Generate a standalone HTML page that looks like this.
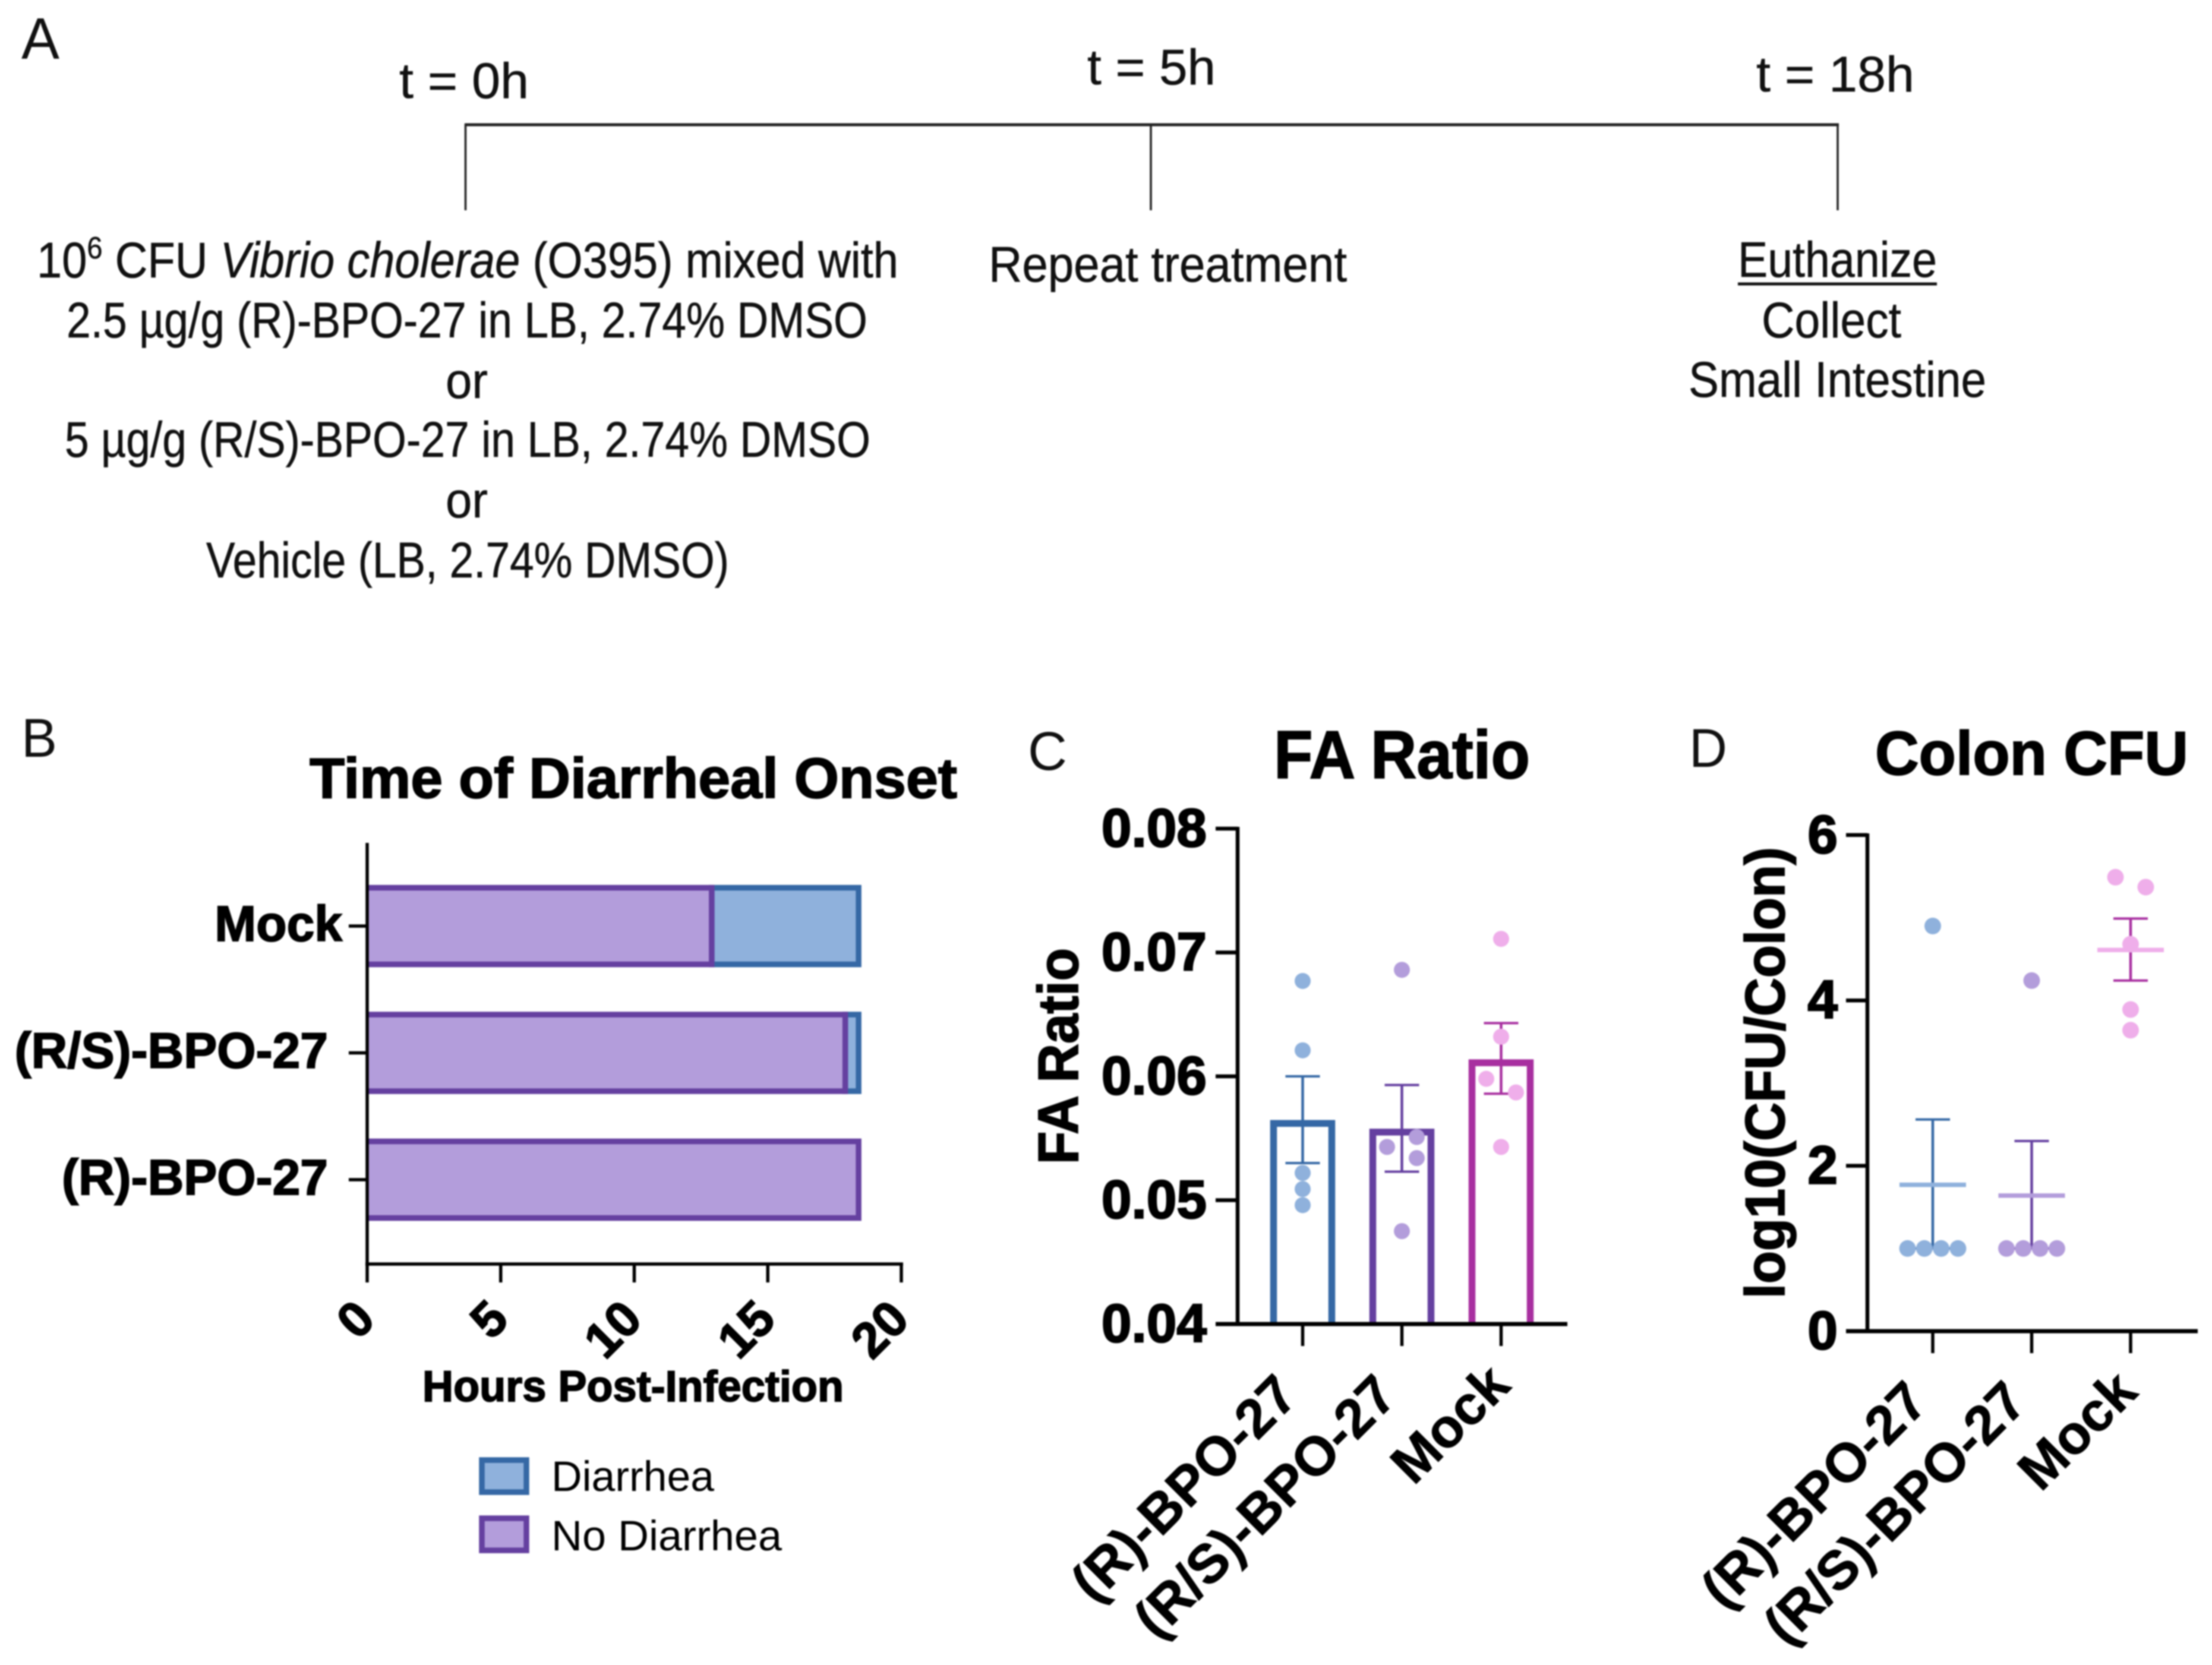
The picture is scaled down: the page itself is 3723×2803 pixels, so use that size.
<!DOCTYPE html>
<html lang="en">
<head>
<meta charset="utf-8">
<title>BPO-27 Vibrio cholerae infection figure</title>
<style>
html,body{margin:0;padding:0;background:#fff;}
svg{display:block;filter:blur(1.4px);}
text{font-family:"Liberation Sans",Arial,sans-serif;fill:#000;}
.proto{font-size:84px;fill:#111;stroke:#111;stroke-width:0.6px;}
.bold{font-weight:700;stroke:#000;stroke-width:2px;}
.panel{font-size:92px;fill:#111;}
</style>
</head>
<body>
<svg id="figure" xmlns="http://www.w3.org/2000/svg" width="3723" height="2803" viewBox="0 0 3723 2803">
<rect x="0" y="0" width="3723" height="2803" fill="#fff"/>

<g>
<text class="panel" x="36" y="99" font-size="98" style="font-size:98px" textLength="64" lengthAdjust="spacingAndGlyphs">A</text>
<text class="proto" x="672" y="165" textLength="218" lengthAdjust="spacingAndGlyphs">t = 0h</text>
<text class="proto" x="1830" y="142" textLength="216" lengthAdjust="spacingAndGlyphs">t = 5h</text>
<text class="proto" x="2956" y="154" textLength="266" lengthAdjust="spacingAndGlyphs">t = 18h</text>
<line x1="782" y1="210" x2="3095" y2="210" stroke="#222" stroke-width="5"/>
<line x1="783.5" y1="209" x2="783.5" y2="354" stroke="#222" stroke-width="3.5"/>
<line x1="1937" y1="209" x2="1937" y2="354" stroke="#222" stroke-width="3.5"/>
<line x1="3093" y1="209" x2="3093" y2="354" stroke="#222" stroke-width="3.5"/>
<text class="proto" x="62" y="467" textLength="1450" lengthAdjust="spacingAndGlyphs">10<tspan font-size="52" style="font-size:52px" dy="-32">6</tspan><tspan dy="32"> CFU </tspan><tspan font-style="italic">Vibrio cholerae</tspan><tspan> (O395) mixed with</tspan></text>
<text class="proto" x="112" y="568" textLength="1348" lengthAdjust="spacingAndGlyphs">2.5 µg/g (R)-BPO-27 in LB, 2.74% DMSO</text>
<text class="proto" x="750" y="670" textLength="71" lengthAdjust="spacingAndGlyphs">or</text>
<text class="proto" x="109" y="769" textLength="1356" lengthAdjust="spacingAndGlyphs">5 µg/g (R/S)-BPO-27 in LB, 2.74% DMSO</text>
<text class="proto" x="750" y="871" textLength="71" lengthAdjust="spacingAndGlyphs">or</text>
<text class="proto" x="347" y="972" textLength="880" lengthAdjust="spacingAndGlyphs">Vehicle (LB, 2.74% DMSO)</text>
<text class="proto" x="1664" y="474" textLength="603" lengthAdjust="spacingAndGlyphs">Repeat treatment</text>
<text class="proto" x="2925" y="466" textLength="335" lengthAdjust="spacingAndGlyphs">Euthanize</text>
<line x1="2925" y1="478" x2="3260" y2="478" stroke="#111" stroke-width="5"/>
<text class="proto" x="2965" y="568" textLength="235" lengthAdjust="spacingAndGlyphs">Collect</text>
<text class="proto" x="2842" y="668" textLength="501" lengthAdjust="spacingAndGlyphs">Small Intestine</text>
</g>

<g id="panelB">
<text class="panel" x="36" y="1274" textLength="60" lengthAdjust="spacingAndGlyphs">B</text>
<text class="bold" x="521" y="1343" font-size="96" textLength="1090" lengthAdjust="spacingAndGlyphs">Time of Diarrheal Onset</text>
<text class="bold" x="711" y="2359" font-size="73" textLength="709" lengthAdjust="spacingAndGlyphs">Hours Post-Infection</text>
<rect x="811" y="2458" width="75" height="54" fill="#8fb1dc" stroke="#3568a5" stroke-width="9.5"/>
<text x="928" y="2510" font-size="71" fill="#111" textLength="274" lengthAdjust="spacingAndGlyphs">Diarrhea</text>
<rect x="811" y="2556" width="75" height="54" fill="#b39ddb" stroke="#6540a0" stroke-width="9.5"/>
<text x="928" y="2610" font-size="71" fill="#111" textLength="388" lengthAdjust="spacingAndGlyphs">No Diarrhea</text>
</g>

<g id="panelC">
<text class="panel" x="1730" y="1296" textLength="66" lengthAdjust="spacingAndGlyphs">C</text>
<text class="bold" x="2144" y="1310" font-size="114" textLength="431" lengthAdjust="spacingAndGlyphs">FA Ratio</text>
<text class="bold" transform="translate(1814,1960) rotate(-90)" font-size="96" textLength="364" lengthAdjust="spacingAndGlyphs">FA Ratio</text>
</g>

<g id="panelD">
<text class="panel" x="2843" y="1291" textLength="64" lengthAdjust="spacingAndGlyphs">D</text>
<text class="bold" x="3156" y="1304" font-size="104" textLength="527" lengthAdjust="spacingAndGlyphs">Colon CFU</text>
<text class="bold" transform="translate(3003,2186) rotate(-90)" font-size="94" textLength="760" lengthAdjust="spacingAndGlyphs">log10(CFU/Colon)</text>
</g>
</svg>

<script>
// ---- Panel B data ----
var onsetCategories = ['Mock', '(R/S)-BPO-27', '(R)-BPO-27'];
var noDiarrheaHours = [12.9, 17.9, 18.4];
var diarrheaHours = [5.5, 0.5, 0];
var hourTicks = [0, 5, 10, 15, 20];
var hourTickLabels = ['0', '5', '10', '15', '20'];

// ---- Panel C data ----
var groupLabels = ['(R)-BPO-27', '(R/S)-BPO-27', 'Mock'];
var faMeans = [0.0562, 0.0555, 0.0611];
var faErrHigh = [0.0600, 0.0593, 0.0643];
var faErrLow = [0.0530, 0.0523, 0.0586];
var faPoints = [
  [0.0677, 0.0621, 0.0522, 0.0509, 0.0496],
  [0.0686, 0.0551, 0.0543, 0.0534, 0.0475],
  [0.0711, 0.0632, 0.0598, 0.0587, 0.0543]
];
var faJitter = [
  [0, 0, 0, 0, 0],
  [0, 1, -1, 1, 0],
  [0, 0, -1, 1, 0]
];
var faTicks = [0.04, 0.05, 0.06, 0.07, 0.08];
var faTickLabels = ['0.04', '0.05', '0.06', '0.07', '0.08'];

// ---- Panel D data ----
var cfuMeans = [1.77, 1.64, 4.61];
var cfuErrHigh = [2.56, 2.30, 4.99];
var cfuErrLow = [1.0, 1.0, 4.24];
var cfuPoints = [
  [4.9, 1, 1, 1, 1],
  [4.24, 1, 1, 1, 1],
  [5.49, 5.37, 4.68, 3.89, 3.64]
];
var cfuJitter = [
  [0, -1.5, -0.5, 0.5, 1.5],
  [0, -1.5, -0.5, 0.5, 1.5],
  [-0.9, 0.9, 0, 0, 0]
];
var cfuTicks = [0, 2, 4, 6];
var cfuTickLabels = ['0', '2', '4', '6'];

var NS = 'http://www.w3.org/2000/svg';
var darkColors = ['#3568a5', '#6540a0', '#a82fa0'];
var lightColors = ['#8fb1dc', '#b39ddb', '#efaeea'];

function make(parent, tag, attrs, txt) {
  var el = document.createElementNS(NS, tag);
  for (var k in attrs) { el.setAttribute(k, attrs[k]); }
  if (txt !== undefined) { el.textContent = txt; }
  parent.appendChild(el);
  return el;
}
function seg(parent, x1, y1, x2, y2, color, w) {
  return make(parent, 'line', {x1: x1, y1: y1, x2: x2, y2: y2, stroke: color, 'stroke-width': w});
}

// ---- Axis functions ----
function xHours(v) { return 618 + v * 44.95; }
function yOnset(i) { return 1560 + i * 213.5; }
function yFA(v) { return 2229 - (v - 0.04) * 20850; }
function xFA(i) { return 2192.5 + i * 167; }
function yCFU(v) { return 2241 - v * 139.2; }
function xCFU(i) { return 3253 + i * 166.5; }

var el;

// ---- Panel B ----
var pB = document.getElementById('panelB');
var barHalf = 64.5;
onsetCategories.forEach(function (cat, i) {
  var yc = yOnset(i) - 1;
  var nd = noDiarrheaHours[i];
  var di = diarrheaHours[i];
  if (di > 0) {
    el = make(pB, 'rect', {x: xHours(nd), y: yc - barHalf, width: xHours(nd + di) - xHours(nd), height: barHalf * 2, fill: '#8fb1dc', stroke: '#3568a5', 'stroke-width': 9.5});
    
    
  }
  el = make(pB, 'path', {d: 'M' + xHours(0) + ' ' + (yc - barHalf) + 'H' + xHours(nd) + 'V' + (yc + barHalf) + 'H' + xHours(0), fill: '#b39ddb', stroke: '#6540a0', 'stroke-width': 9.5});
  
  
  el = seg(pB, 587, yc, 618, yc, '#000', 5.5);
  
  
  el = make(pB, 'text', {x: 552 + (i === 0 ? 24 : 0), y: yc + 25, 'text-anchor': 'end', 'font-size': 84, 'font-weight': 700, stroke: '#000', 'stroke-width': 2}, cat);
  
  
});
el = seg(pB, 618, 1419, 618, 2131, '#000', 5.5);


el = seg(pB, 615, 2128, 1520, 2128, '#000', 5.5);


hourTicks.forEach(function (t, i) {
  var x = xHours(t);
  el = seg(pB, x, 2128, x, 2159, '#000', 5.5);
  
  
  el = make(pB, 'text', {transform: 'translate(' + (x + 17) + ',2225) rotate(-45)', 'text-anchor': 'end', 'font-size': 84, 'font-weight': 700, stroke: '#000', 'stroke-width': 2}, hourTickLabels[i]);
  
  
});

// ---- Panel C ----
var pC = document.getElementById('panelC');
var halfBar = 49;
faMeans.forEach(function (m, i) {
  var xc = xFA(i);
  var yb = yFA(faTicks[0]);
  var yt = yFA(m);
  el = make(pC, 'path', {d: 'M' + (xc - halfBar) + ' ' + yb + 'V' + yt + 'H' + (xc + halfBar) + 'V' + yb, fill: 'none', stroke: darkColors[i], 'stroke-width': 11.5});
  
  
  el = seg(pC, xc, yFA(faErrHigh[i]), xc, yFA(faErrLow[i]), darkColors[i], 4.5);
  
  
  el = seg(pC, xc - 29, yFA(faErrHigh[i]), xc + 29, yFA(faErrHigh[i]), darkColors[i], 4);
  
  
  el = seg(pC, xc - 29, yFA(faErrLow[i]), xc + 29, yFA(faErrLow[i]), darkColors[i], 4);
  
  
  faPoints[i].forEach(function (v, j) {
    el = make(pC, 'circle', {cx: xc + faJitter[i][j] * 25, cy: yFA(v), r: 13.5, fill: lightColors[i]});
    
    
  });
  var isShort = groupLabels[i].length < 6;
  var ax = xc - 4 + (isShort ? 23 : 0);
  var ay = yb + 3 + (isShort ? 104 : 122);
  el = seg(pC, xc, yb, xc, 2266, '#000', 5.5);
  
  
  el = make(pC, 'text', {transform: 'translate(' + ax + ',' + ay + ') rotate(-45)', 'text-anchor': 'end', 'font-size': 92, 'font-weight': 700, stroke: '#000', 'stroke-width': 1}, groupLabels[i]);
  
  
});
el = seg(pC, 2083, 1392, 2083, 2232, '#000', 6.5);


el = seg(pC, 2046, 2229, 2638, 2229, '#000', 7);


faTicks.forEach(function (t, i) {
  var y = yFA(t);
  el = seg(pC, 2046, y, 2083, y, '#000', 6.5);
  
  
  el = make(pC, 'text', {x: 2031, y: y + 30, 'text-anchor': 'end', 'font-size': 91, 'font-weight': 700, stroke: '#000', 'stroke-width': 2.5}, faTickLabels[i]);
  
  
});

// ---- Panel D ----
var pD = document.getElementById('panelD');
cfuMeans.forEach(function (m, i) {
  var xc = xCFU(i);
  var yb = yCFU(cfuTicks[0]);
  el = seg(pD, xc, yCFU(cfuErrHigh[i]), xc, yCFU(cfuErrLow[i]), darkColors[i], 4.5);
  
  
  el = seg(pD, xc - 29, yCFU(cfuErrHigh[i]), xc + 29, yCFU(cfuErrHigh[i]), darkColors[i], 4);
  
  
  el = seg(pD, xc - 29, yCFU(cfuErrLow[i]), xc + 29, yCFU(cfuErrLow[i]), darkColors[i], 4);
  
  
  cfuPoints[i].forEach(function (v, j) {
    el = make(pD, 'circle', {cx: xc + cfuJitter[i][j] * 28.3, cy: yCFU(v), r: 14, fill: lightColors[i]});
    
    
  });
  el = seg(pD, xc - 56, yCFU(m), xc + 56, yCFU(m), lightColors[i], 7.5);
  
  
  var isShort = groupLabels[i].length < 6;
  var ax = xc - 4 + (isShort ? 19 : 0);
  var ay = yb + 3 + (isShort ? 103 : 121);
  el = seg(pD, xc, yb, xc, 2278, '#000', 5.5);
  
  
  el = make(pD, 'text', {transform: 'translate(' + ax + ',' + ay + ') rotate(-45)', 'text-anchor': 'end', 'font-size': 92, 'font-weight': 700, stroke: '#000', 'stroke-width': 1}, groupLabels[i]);
  
  
});
el = seg(pD, 3143, 1403, 3143, 2244, '#000', 6.5);


el = seg(pD, 3107, 2241, 3699, 2241, '#000', 7);


cfuTicks.forEach(function (t, i) {
  var y = yCFU(t);
  el = seg(pD, 3107, y, 3143, y, '#000', 6.5);
  
  
  el = make(pD, 'text', {x: 3093, y: y + 30, 'text-anchor': 'end', 'font-size': 91, 'font-weight': 700, stroke: '#000', 'stroke-width': 2.5}, cfuTickLabels[i]);
  
  
});
</script>
</body>
</html>
